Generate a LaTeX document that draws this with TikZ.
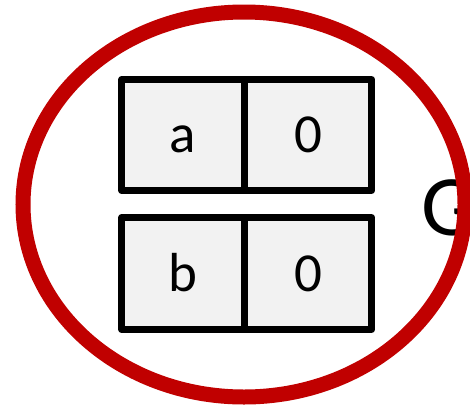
\documentclass[tikz,border=0pt]{standalone}
\usepackage{fontspec}
\setmainfont{Carlito}
\definecolor{ringred}{HTML}{C00000}
\definecolor{cellfill}{HTML}{F2F2F2}
\begin{document}
\begin{tikzpicture}[x=1pt,y=-1pt,
  cell/.style={draw=black,fill=cellfill,line width=7pt,line join=round,
    inner sep=0pt,minimum height=111pt,text height=35pt,text depth=0pt,
    font=\fontsize{55}{60}\selectfont},
  ring/.style={draw=ringred,line width=15pt},
  lbl/.style={inner sep=0pt,font=\fontsize{86}{90}\selectfont}]
\useasboundingbox (0,0) rectangle (470,407);
\node[lbl,anchor=west] (g) at (421,207.5) {G};
\node[cell,minimum width=122.5pt] (a) at (183,135) {a};
\node[cell,minimum width=127.5pt] (a0) at (308,135) {0};
\node[cell,minimum width=122.5pt,minimum height=112pt] (b) at (183,273.5) {b};
\node[cell,minimum width=127.5pt,minimum height=112pt] (b0) at (308,273.5) {0};
\draw[ring] (244,204.5) ellipse [x radius=221pt,y radius=192.5pt];
\end{tikzpicture}
\end{document}
